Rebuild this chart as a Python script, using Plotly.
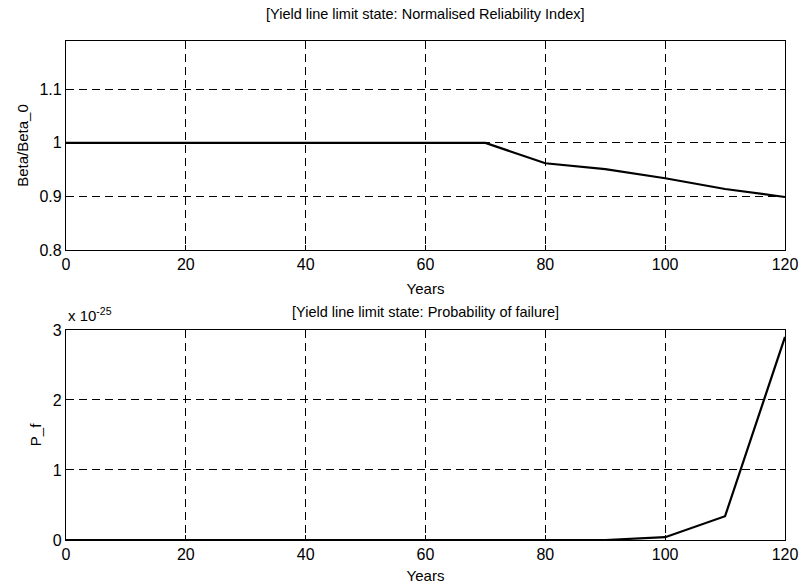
import plotly.graph_objects as go
from plotly.subplots import make_subplots

years = [0, 10, 20, 30, 40, 50, 60, 70, 80, 90, 100, 110, 120]
beta_ratio = [1, 1, 1, 1, 1, 1, 1, 1, 0.962, 0.951, 0.934, 0.914, 0.899]
# probability of failure, in units of 1e-25
pf_e25 = [0, 0, 0, 0, 0, 0, 0, 0, 0, 0, 0.04, 0.34, 2.9]

x_ticks = [0, 20, 40, 60, 80, 100, 120]
top_ticks = [0.8, 0.9, 1.0, 1.1]
top_tick_text = ["0.8", "0.9", "1", "1.1"]
bot_ticks = [0, 1, 2, 3]

FONT = "Liberation Sans, Arial, sans-serif"
TICK = dict(family=FONT, size=16, color="black")
LAB = dict(family=FONT, size=15, color="black")

fig = make_subplots(rows=2, cols=1, shared_xaxes=False,
                    vertical_spacing=0.16)
fig.add_trace(go.Scatter(x=years, y=beta_ratio, mode="lines",
                         line=dict(color="black", width=2.2), showlegend=False),
              row=1, col=1)
fig.add_trace(go.Scatter(x=years, y=pf_e25, mode="lines",
                         line=dict(color="black", width=2.2), showlegend=False),
              row=2, col=1)

axis_common = dict(showline=True, linecolor="black", linewidth=1.3, mirror="ticks",
                   ticks="inside", ticklen=5, tickcolor="black",
                   showgrid=True, gridcolor="black", gridwidth=1, griddash="8px,5px",
                   zeroline=False, tickfont=TICK, automargin=False)

fig.update_xaxes(**axis_common, range=[0, 120], tickvals=x_ticks)
fig.update_xaxes(title=dict(text="Years", font=LAB, standoff=11), row=1, col=1)
fig.update_xaxes(title=dict(text="Years", font=LAB, standoff=8), row=2, col=1)
fig.update_yaxes(**axis_common)
fig.update_yaxes(range=[0.8, 1.19], tickvals=top_ticks, ticktext=top_tick_text,
                 title=dict(text="Beta/Beta_0", font=LAB, standoff=7),
                 row=1, col=1)
fig.update_yaxes(range=[0, 3], tickvals=bot_ticks,
                 title=dict(text="P_f", font=LAB, standoff=7),
                 row=2, col=1)

fig.update_layout(
    width=802, height=586,
    margin=dict(l=66, r=17, t=41, b=46, autoexpand=False),
    paper_bgcolor="white", plot_bgcolor="white",
    xaxis=dict(domain=[0, 1]),
    yaxis=dict(domain=[0.581, 1.0]),
    yaxis2=dict(domain=[0.0, 0.421]),
    annotations=[
        dict(text="[Yield line limit state: Normalised Reliability Index]",
             x=0.5, y=1.0, xref="paper", yref="paper", yshift=27,
             showarrow=False, font=dict(family=FONT, size=14.5, color="black"),
             xanchor="center", yanchor="middle"),
        dict(text="[Yield line limit state: Probability of failure]",
             x=0.5, y=0.421, xref="paper", yref="paper", yshift=18,
             showarrow=False, font=dict(family=FONT, size=14.5, color="black"),
             xanchor="center", yanchor="middle"),
        dict(text="x 10<sup>-25</sup>",
             x=0.0, y=0.421, xref="paper", yref="paper", yshift=15,
             showarrow=False, font=dict(family=FONT, size=15, color="black"),
             xanchor="left", yanchor="middle"),
    ],
)

# remove the default page margin so the figure fills the window exactly
fig.write_html("out.html", config={"displayModeBar": False},
               post_script="document.body.style.margin='0';")
